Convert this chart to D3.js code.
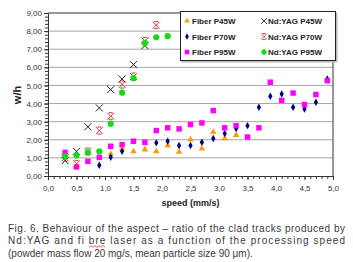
<!DOCTYPE html>
<html>
<head>
<meta charset="utf-8">
<script src="https://cdn.jsdelivr.net/npm/d3@7"></script>
<style>
  body { margin: 0; background: #fff; }
  svg { display: block; }
  .tick text { font-family: "Liberation Sans", Arial, sans-serif; font-size: 8px; fill: #333; }
</style>
</head>
<body>
<svg id="chart" width="353" height="262"></svg>
<script>
// speeds (mm/s) and w/h values
const speedFiber45 = [1.1, 1.3, 1.5, 1.7, 1.9, 2.1, 2.3, 2.5, 2.7, 2.9, 3.1, 3.3];
const fiber45 = [1.22, 1.5, 1.36, 1.46, 1.36, 1.68, 1.33, 2.01, 1.51, 2.43, 2.07, 2.25];

const speedFiber70 = [0.9, 1.1, 1.3, 1.9, 2.1, 2.3, 2.5, 2.7, 2.9, 3.1, 3.3, 3.5, 3.7, 3.9, 4.1, 4.3, 4.5, 4.7, 4.9];
const fiber70 = [0.59, 1.03, 1.36, 1.83, 1.92, 1.68, 1.68, 1.86, 2.07, 2.34, 2.62, 2.78, 3.8, 4.4, 4.53, 3.8, 3.7, 4.07, 5.36];

const speedFiber95 = [0.3, 0.5, 0.7, 0.9, 1.1, 1.3, 1.5, 1.7, 1.9, 2.1, 2.3, 2.5, 2.7, 2.9, 3.1, 3.3, 3.5, 3.7, 3.9, 4.1, 4.3, 4.5, 4.7, 4.9];
const fiber95 = [1.3, 0.5, 0.81, 1.03, 1.64, 1.73, 1.92, 1.86, 2.51, 2.66, 2.6, 2.84, 2.93, 3.61, 2.66, 2.78, 2.15, 2.66, 5.18, 4.17, 4.58, 3.94, 4.5, 5.26];

const speedNd = [0.3, 0.5, 0.7, 0.9, 1.1, 1.3, 1.5, 1.7, 1.9, 2.1];
const nd45 = [0.85, 1.36, 2.72, 3.76, 4.77, 5.36, 6.15, 7.2];
const nd70 = [1.0, 0.67, 1.35, 2.51, 3.3, 5.05, 5.49, 7.46, 8.33];
const nd95 = [1.09, 1.14, 1.31, 1.36, 2.88, 4.6, 5.4, 7.35, 7.66, 7.72];

const xTicks = [0, 0.5, 1, 1.5, 2, 2.5, 3, 3.5, 4, 4.5, 5];
const yTicks = [0, 1, 2, 3, 4, 5, 6, 7, 8, 9];

const series = [
  { name: "Fiber P45W", xs: speedFiber45, ys: fiber45, mark: "triangle", color: "#ff9900" },
  { name: "Fiber P70W", xs: speedFiber70, ys: fiber70, mark: "diamond", color: "#000080" },
  { name: "Fiber P95W", xs: speedFiber95, ys: fiber95, mark: "square", color: "#ff00ff" },
  { name: "Nd:YAG P45W", xs: speedNd, ys: nd45, mark: "cross", color: "#222" },
  { name: "Nd:YAG P70W", xs: speedNd, ys: nd70, mark: "star", color: "#cc3333" },
  { name: "Nd:YAG P95W", xs: speedNd, ys: nd95, mark: "circle", color: "#11dd11" }
];

const svg = d3.select("#chart");
const margin = { top: 13, right: 20, bottom: 86, left: 48 };
const width = 353 - margin.left - margin.right,
      height = 262 - margin.top - margin.bottom;

const g = svg.append("g").attr("transform", "translate(" + margin.left + "," + margin.top + ")");

const x = d3.scaleLinear().domain([0, 5]).range([0, width]);
const y = d3.scaleLinear().domain([0, 9]).range([height, 0]);

const comma = (d, n) => d.toFixed(n).replace(".", ",");

// grid lines
g.append("g")
  .selectAll("line")
  .data(yTicks.slice(1, -1))
  .enter().append("line")
  .attr("x1", 0).attr("x2", width)
  .attr("y1", d => y(d)).attr("y2", d => y(d))
  .attr("stroke", "#a6a6a6").attr("stroke-width", 1);

// plot frame top + right
g.append("path")
  .attr("d", "M0," + y(9) + "H" + width + "V" + y(0))
  .attr("fill", "none").attr("stroke", "#333").attr("stroke-width", 1);

// minor ticks
const yMinor = d3.range(0, 9.001, 0.2);
g.append("g")
  .call(d3.axisLeft(y).tickValues(yMinor).tickSize(3).tickFormat(""))
  .call(a => a.select(".domain").remove())
  .selectAll("line").attr("stroke", "#333");
const xMinor = d3.range(0, 5.001, 0.1);
g.append("g")
  .attr("transform", "translate(0," + height + ")")
  .call(d3.axisBottom(x).tickValues(xMinor).tickSize(3).tickFormat(""))
  .call(a => a.select(".domain").remove())
  .selectAll("line").attr("stroke", "#333");

// major axes
g.append("g")
  .call(d3.axisLeft(y).tickValues(yTicks).tickSize(4).tickSizeOuter(0).tickPadding(2).tickFormat(d => comma(d, 2)))
  .call(a => a.selectAll("line, .domain").attr("stroke", "#333"));
g.append("g")
  .attr("transform", "translate(0," + height + ")")
  .call(d3.axisBottom(x).tickValues(xTicks).tickSize(4).tickSizeOuter(0).tickPadding(5).tickFormat(d => comma(d, 1)))
  .call(a => a.selectAll("line, .domain").attr("stroke", "#333"));

// axis titles
svg.append("text")
  .attr("transform", "translate(21,95) rotate(-90)")
  .attr("text-anchor", "middle")
  .style("font-family", "Liberation Sans, Arial, sans-serif")
  .style("font-size", "11px").style("font-weight", "bold").attr("fill", "#222")
  .text("w/h");
svg.append("text")
  .attr("x", margin.left + x(2.5)).attr("y", 206)
  .attr("text-anchor", "middle")
  .style("font-family", "Liberation Sans, Arial, sans-serif")
  .style("font-size", "9px").style("font-weight", "bold").attr("fill", "#222")
  .text("speed (mm/s)");

// marker drawing
function drawMark(sel, s) {
  const sym = { triangle: [d3.symbolTriangle, 18], diamond: [d3.symbolDiamond, 16], square: [d3.symbolSquare, 30], circle: [d3.symbolCircle, 30] };
  if (sym[s.mark]) {
    sel.append("path")
      .attr("d", d3.symbol().type(sym[s.mark][0]).size(sym[s.mark][1]))
      .attr("fill", s.color);
  } else {
    const r = 3.5;
    let d = "M" + -r + "," + -r + "L" + r + "," + r + "M" + r + "," + -r + "L" + -r + "," + r;
    if (s.mark === "star") d += "M" + -2 + "," + -r + "H2M-2," + r + "H2";
    sel.append("path").attr("d", d).attr("fill", "none")
      .attr("stroke", s.color).attr("stroke-width", 1);
  }
}

series.forEach(s => {
  const pts = s.ys.map((v, i) => [s.xs[i], v]);
  g.append("g").selectAll("g")
    .data(pts)
    .enter().append("g")
    .attr("transform", d => "translate(" + x(d[0]) + "," + y(d[1]) + ")")
    .each(function() { drawMark(d3.select(this), s); });
});

// legend
const legend = svg.append("g").attr("transform", "translate(180,11)");
legend.append("rect").attr("x", 1.5).attr("y", 1.5).attr("width", 156).attr("height", 50).attr("fill", "#bbb");
legend.append("rect").attr("x", 0.5).attr("y", 0.5).attr("width", 155).attr("height", 49)
  .attr("fill", "#fff").attr("stroke", "#222");
series.forEach((s, i) => {
  const col = Math.floor(i / 3), row = i % 3;
  const item = legend.append("g")
    .attr("transform", "translate(" + (col === 0 ? 7 : 84) + "," + (10 + row * 15.5) + ")");
  drawMark(item.append("g").attr("transform", "scale(0.85)"), s);
  item.append("text")
    .attr("x", col === 0 ? 5 : 4).attr("y", 3)
    .style("font-family", "Liberation Sans, Arial, sans-serif")
    .style("font-size", "8px").style("font-weight", "bold").attr("fill", "#222")
    .text(s.name);
});

// caption
const caption = [
  "Fig. 6. Behaviour of the aspect \u2013 ratio of the clad tracks produced by",
  "Nd:YAG and fi bre laser as a function of the processing speed",
  "(powder mass flow 20 mg/s, mean particle size 90 \u03bcm)."
];
const cap = svg.append("g")
  .style("font-family", "Liberation Sans, Arial, sans-serif")
  .style("font-size", "10px").attr("fill", "#3a3a3a");
caption.forEach((t, i) => {
  const txt = cap.append("text").attr("x", 8).attr("y", 231.5 + i * 12.5).text(t);
  if (i < 2) txt.attr("textLength", 337).attr("lengthAdjust", "spacing");
});
// spell-check squiggle under "bre"
const wave = d3.range(0, 9).map(k => [89 + k * 2, 246.5 + (k % 2 ? -0.8 : 0.8)]);
svg.append("path").attr("d", d3.line()(wave)).attr("fill", "none").attr("stroke", "#e03030").attr("stroke-width", 0.8);
</script>
</body>
</html>
